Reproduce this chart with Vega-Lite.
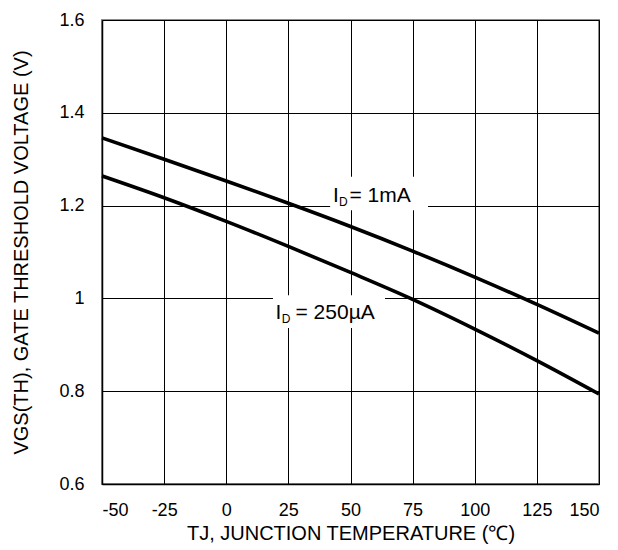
{
  "$schema": "https://vega.github.io/schema/vega-lite/v6.json",
  "width": 497,
  "height": 464,
  "autosize": "none",
  "padding": {"left": 102, "top": 20, "right": 19, "bottom": 66},
  "config": {
    "font": "Liberation Sans",
    "view": {"stroke": "#8c8c8c", "strokeWidth": 2},
    "axis": {
      "grid": true,
      "gridColor": "#000000",
      "gridWidth": 1,
      "gridOpacity": 1,
      "domainColor": "#000000",
      "domainWidth": 1.5,
      "ticks": false,
      "labelFont": "Liberation Sans",
      "labelFontSize": 18,
      "labelColor": "#000000",
      "titleFont": "Liberation Sans",
      "titleFontSize": 20,
      "titleFontWeight": "normal",
      "titleColor": "#000000"
    }
  },
  "datasets": {
    "curves": [
      {"T": -50, "V": 1.346, "series": "1mA"},
      {"T": -25, "V": 1.300, "series": "1mA"},
      {"T": 0, "V": 1.253, "series": "1mA"},
      {"T": 25, "V": 1.205, "series": "1mA"},
      {"T": 50, "V": 1.155, "series": "1mA"},
      {"T": 75, "V": 1.102, "series": "1mA"},
      {"T": 100, "V": 1.046, "series": "1mA"},
      {"T": 125, "V": 0.987, "series": "1mA"},
      {"T": 150, "V": 0.925, "series": "1mA"},
      {"T": -50, "V": 1.264, "series": "250uA"},
      {"T": -25, "V": 1.217, "series": "250uA"},
      {"T": 0, "V": 1.166, "series": "250uA"},
      {"T": 25, "V": 1.112, "series": "250uA"},
      {"T": 50, "V": 1.056, "series": "250uA"},
      {"T": 75, "V": 0.998, "series": "250uA"},
      {"T": 100, "V": 0.934, "series": "250uA"},
      {"T": 125, "V": 0.866, "series": "250uA"},
      {"T": 150, "V": 0.794, "series": "250uA"}
    ],
    "boxes": [
      {"T": 41.8, "T2": 81.2, "V": 1.262, "V2": 1.19},
      {"T": 18.8, "T2": 63.9, "V": 1.007, "V2": 0.936}
    ],
    "labels": [
      {"T": 42.96, "V": 1.2084, "text": "I", "kind": "main"},
      {"T": 45.4, "V": 1.1998, "text": "D", "kind": "sub"},
      {"T": 49.6, "V": 1.2084, "text": "= 1mA", "kind": "main"},
      {"T": 19.78, "V": 0.955, "text": "I", "kind": "main"},
      {"T": 22.35, "V": 0.947, "text": "D", "kind": "sub"},
      {"T": 27.87, "V": 0.955, "text": "= 250µA", "kind": "main"}
    ]
  },
  "layer": [
    {
      "data": {"name": "boxes"},
      "mark": {"type": "rect", "fill": "#ffffff", "stroke": null},
      "encoding": {
        "x": {"field": "T", "type": "quantitative", "scale": {"domain": [-50, 150], "nice": false, "zero": false},
          "axis": {"values": [-50, -25, 0, 25, 50, 75, 100, 125, 150], "labelExpr": "'' + datum.value", "labelPadding": 17, "title": "TJ, JUNCTION TEMPERATURE (℃)", "titlePadding": 4}},
        "x2": {"field": "T2"},
        "y": {"field": "V", "type": "quantitative", "scale": {"domain": [0.6, 1.6], "nice": false, "zero": false},
          "axis": {"values": [0.6, 0.8, 1, 1.2, 1.4, 1.6], "labelExpr": "'' + datum.value", "labelPadding": 18, "title": "VGS(TH),  GATE THRESHOLD VOLTAGE (V)", "titlePadding": 27}},
        "y2": {"field": "V2"}
      }
    },
    {
      "data": {"name": "curves"},
      "mark": {"type": "line", "color": "#000000", "strokeWidth": 3.6, "interpolate": "monotone"},
      "encoding": {
        "x": {"field": "T", "type": "quantitative"},
        "y": {"field": "V", "type": "quantitative"},
        "detail": {"field": "series"}
      }
    },
    {
      "data": {"name": "labels"},
      "transform": [{"filter": "datum.kind === 'main'"}],
      "mark": {"type": "text", "align": "left", "baseline": "alphabetic", "fontSize": 21, "color": "#000000"},
      "encoding": {
        "x": {"field": "T", "type": "quantitative"},
        "y": {"field": "V", "type": "quantitative"},
        "text": {"field": "text"}
      }
    },
    {
      "data": {"name": "labels"},
      "transform": [{"filter": "datum.kind === 'sub'"}],
      "mark": {"type": "text", "align": "left", "baseline": "alphabetic", "fontSize": 12, "color": "#000000"},
      "encoding": {
        "x": {"field": "T", "type": "quantitative"},
        "y": {"field": "V", "type": "quantitative"},
        "text": {"field": "text"}
      }
    }
  ]
}
